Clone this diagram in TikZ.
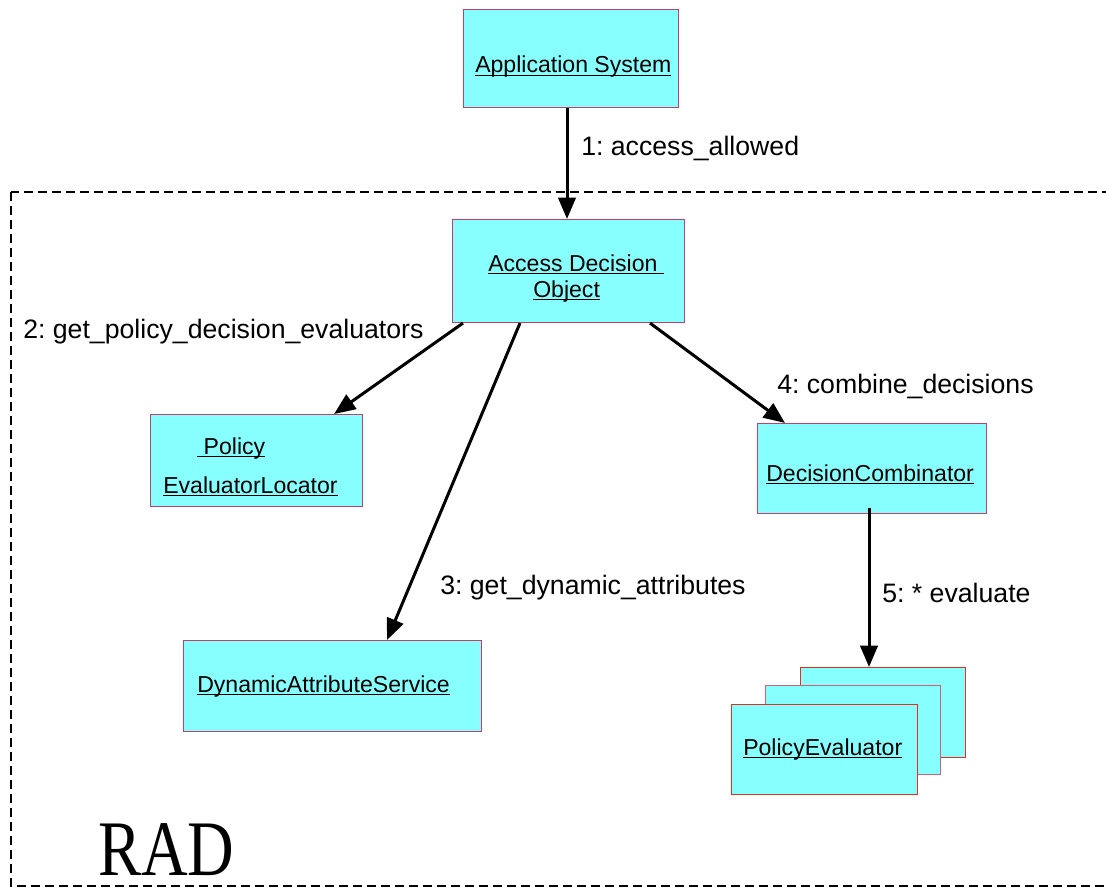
\documentclass[tikz,border=0pt]{standalone}
\usepackage{fontspec}
\setmainfont{Liberation Sans}
\newfontfamily\radfont{Liberation Serif}
\usetikzlibrary{arrows.meta,calc}
\definecolor{boxfill}{HTML}{88FFFF}
\definecolor{boxline}{HTML}{C0406A}
\definecolor{redline}{HTML}{E03020}
\definecolor{pinkline}{HTML}{D0607A}
\newcommand\myul[1]{\setbox0=\hbox{#1}\rlap{\rule[-2.2pt]{\wd0}{0.9pt}}\box0}
\frenchspacing
\begin{document}
\begin{tikzpicture}[x=0.75pt,y=-0.75pt,
  box/.style={draw=boxline,line width=0.8pt,fill=boxfill,inner sep=0pt,anchor=north west},
  sz/.style 2 args={minimum width=#1*0.75pt,minimum height=#2*0.75pt},
  boxtext/.style={font=\fontsize{17.3}{20}\selectfont,anchor=base west,inner sep=0pt},
  lbl/.style={font=\fontsize{20}{24}\selectfont,anchor=base west,inner sep=0pt},
  arr/.style={line width=2.25pt,-{Triangle[length=16pt,width=13pt]}},
  frame/.style={line width=1.5pt,dash pattern=on 6.75pt off 3.75pt}]
\useasboundingbox (0,0) rectangle (1106,888);

% frame
\draw[frame] (11,192) rectangle (1120,886);
\node[anchor=base west,inner sep=0pt,font=\radfont\fontsize{59}{59}\selectfont,xscale=0.82] (rad) at (98,875) {RAD};

% boxes
\node[box,sz={215}{98}] (as) at (463,9) {};
\node[box,sz={232}{103}] (ado) at (452,219) {};
\node[box,sz={212}{92}] (pel) at (150,414) {};
\node[box,sz={229}{90}] (dc) at (757,423) {};
\node[box,sz={298}{91}] (das) at (183,640) {};
\node[box,sz={165}{90},draw=redline] (pe3) at (800,667) {};
\node[box,sz={175}{89},draw=pinkline] (pe2) at (765,685) {};
\node[box,sz={186}{90},draw=redline] (pe1) at (731,704) {};

% box texts
\node[boxtext] (ast) at (475,73) {\myul{Application System}};
\node[boxtext] (adoa) at (488,271) {\myul{Access Decision\ }};
\node[boxtext] (adob) at (533,297) {\myul{Object}};
\node[boxtext] (pela) at (197,454) {\myul{\ Policy}};
\node[boxtext] (pelb) at (163,493) {\myul{EvaluatorLocator}};
\node[boxtext] (dct) at (766,481) {\myul{DecisionCombinator}};
\node[boxtext] (dast) at (197,692) {\myul{DynamicAttributeService}};
\node[boxtext] (pet) at (743,755) {\myul{PolicyEvaluator}};

% labels
\node[lbl] (l1) at (581,156) {1: access\_allowed};
\node[lbl] (l2) at (23,338) {2: get\_policy\_decision\_evaluators};
\node[lbl] (l3) at (440,594) {3: get\_dynamic\_attributes};
\node[lbl] (l4) at (777,393) {4: combine\_decisions};
\node[lbl] (l5) at (882,602) {5: * evaluate};

% connectors
\coordinate (a1) at ($(as.south west)+(104,0)$);
\draw[arr] (a1) -- (a1 |- ado.north);
\draw[arr] ($(ado.south west)+(11,0)$) -- ($(pel.north east)+(-29,0)$);
\draw[arr] ($(ado.south west)+(68,0)$) -- ($(das.north west)+(204,0)$);
\draw[arr] ($(ado.south west)+(198,0)$) -- ($(dc.north west)+(28,0)$);
\draw[arr] ($(dc.south west)+(112,-6)$) -- ($(pe3.north west)+(69,0)$);
\end{tikzpicture}
\end{document}
